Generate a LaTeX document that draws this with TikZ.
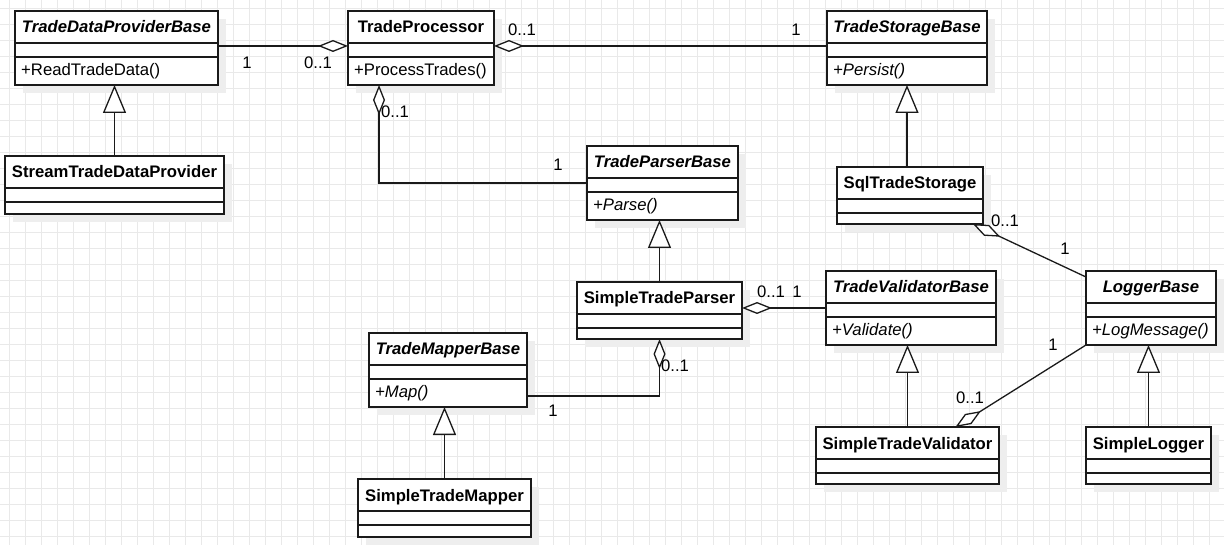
\documentclass[tikz,border=0pt]{standalone}
\usepackage{fontspec}
\setmainfont{Liberation Sans}
\usetikzlibrary{arrows.meta,calc}
\definecolor{gridc}{HTML}{E9E9E9}
\definecolor{shadc}{HTML}{EEEEEE}
\definecolor{inkc}{HTML}{1A1A1A}
\tikzset{
  clsbox/.style={draw=inkc, line width=1.3pt, fill=white, inner sep=0pt, outer sep=0pt, rectangle},
  clsline/.style={draw=inkc, line width=1.3pt},
  clstitle/.style={font=\fontsize{16.7}{20}\selectfont\bfseries, inner sep=0pt, text height=12pt, text depth=0pt, text=black},
  clsmeth/.style={font=\fontsize{16.7}{20}\selectfont, inner sep=0pt, text height=12pt, text depth=0pt, anchor=west, text=black},
  lbl/.style={font=\fontsize{16.7}{20}\selectfont, inner sep=0pt, text height=12pt, text depth=0pt, text=black},
  conn/.style={draw=inkc, line width=1.3pt},
  agg/.style={conn, -{Diamond[fill=white, length=30pt, width=12pt]}},
  inh/.style={conn, -{Triangle[fill=white, length=28pt, width=23pt]}},
  gridline/.style={draw=gridc, line width=1pt},
}
\newcommand\umlclass[7]{%
  \fill[shadc] (#2+8,#3+8) rectangle ++(#4,#5);
  \node[clsbox, minimum width=#4pt, minimum height=#5pt, anchor=north west] (#1) at (#2,#3) {};
  \draw[clsline] ($(#1.north west)+(0,-32pt)$) -- ($(#1.north east)+(0,-32pt)$);
  \draw[clsline] ($(#1.north west)+(0,-46pt)$) -- ($(#1.north east)+(0,-46pt)$);
  \node[clstitle] (#1-title) at ($(#1.north)+(0,-16pt)$) {#6};
  \if\relax\detokenize{#7}\relax\else
    \node[clsmeth] (#1-meth) at ($(#1.north west)+(6pt,-59pt)$) {#7};
  \fi
}
\begin{document}
\begin{tikzpicture}[x=1pt,y=-1pt]
  \fill[white] (0,0) rectangle (1224,545);
  \useasboundingbox (0,0) rectangle (1224,545);
  \foreach \gx in {9.33,25.33,...,1224} {\draw[gridline] (\gx,0) -- (\gx,545);}
  \foreach \gy in {8.67,24.67,...,545} {\draw[gridline] (0,\gy) -- (1224,\gy);}

  \umlclass{tdpb}{15}{11}{203}{74}{\itshape TradeDataProviderBase}{+ReadTradeData()}
  \umlclass{tp}{348}{11}{146}{74}{TradeProcessor}{+ProcessTrades()}
  \umlclass{tsb}{827}{11}{160}{74}{\itshape TradeStorageBase}{\itshape +Persist()}
  \umlclass{stdp}{5}{156}{219}{58}{StreamTradeDataProvider}{}
  \umlclass{tpb}{587}{146}{151}{74}{\itshape TradeParserBase}{\itshape +Parse()}
  \umlclass{sts}{837}{167}{146}{57}{SqlTradeStorage}{}
  \umlclass{stp}{577}{282}{165}{57}{SimpleTradeParser}{}
  \umlclass{tvb}{826}{271}{170}{74}{\itshape TradeValidatorBase}{\itshape +Validate()}
  \umlclass{lb}{1086}{271}{130}{74}{\itshape LoggerBase}{\itshape +LogMessage()}
  \umlclass{tmb}{369}{333}{158}{74}{\itshape TradeMapperBase}{\itshape +Map()}
  \umlclass{stm}{358}{479}{173}{58}{SimpleTradeMapper}{}
  \umlclass{stv}{816}{427}{183}{57}{SimpleTradeValidator}{}
  \umlclass{sl}{1086}{427}{125}{57}{SimpleLogger}{}

  % aggregations
  \draw[agg] ([yshift=2pt]tdpb.east) -- ([yshift=2pt]tp.west);
  \draw[agg] ([yshift=2pt]tsb.west) -- ([yshift=2pt]tp.east);
  \draw[agg] (tpb.west) -| ([xshift=-42pt]tp.south);
  \draw[agg] (tvb.west) -- (tvb.west -| stp.east);
  \draw[agg] ([yshift=-26pt]tmb.east) -| (stp.south);
  \draw[agg] ([yshift=-6pt]lb.north west) -- ([xshift=-10pt]sts.south east);
  \draw[agg] (lb.south west) -- ([xshift=48pt]stv.north);

  % generalizations
  \draw[inh] (stdp.north) -- (stdp.north |- tdpb.south);
  \draw[inh] (tsb.south |- sts.north) -- (tsb.south);
  \draw[inh] (stp.north) -- (stp.north |- tpb.south);
  \draw[inh] (stm.north) -- (stm.north |- tmb.south);
  \draw[inh] (stv.north) -- (stv.north |- tvb.south);
  \draw[inh] (sl.north) -- (sl.north |- lb.south);

  % multiplicities
  \node[lbl] (m1a) at (247,63) {1};
  \node[lbl] (m1b) at (318,63) {0..1};
  \node[lbl] (m2a) at (522,30) {0..1};
  \node[lbl] (m2b) at (796,30) {1};
  \node[lbl] (m3a) at (395,112) {0..1};
  \node[lbl] (m3b) at (558,165) {1};
  \node[lbl] (m4a) at (771,292) {0..1};
  \node[lbl] (m4b) at (797,292) {1};
  \node[lbl] (m5a) at (675,366) {0..1};
  \node[lbl] (m5b) at (553,410) {1};
  \node[lbl] (m6a) at (1005,221) {0..1};
  \node[lbl] (m6b) at (1065,249) {1};
  \node[lbl] (m7a) at (1053,345) {1};
  \node[lbl] (m7b) at (970,397) {0..1};
\end{tikzpicture}
\end{document}
